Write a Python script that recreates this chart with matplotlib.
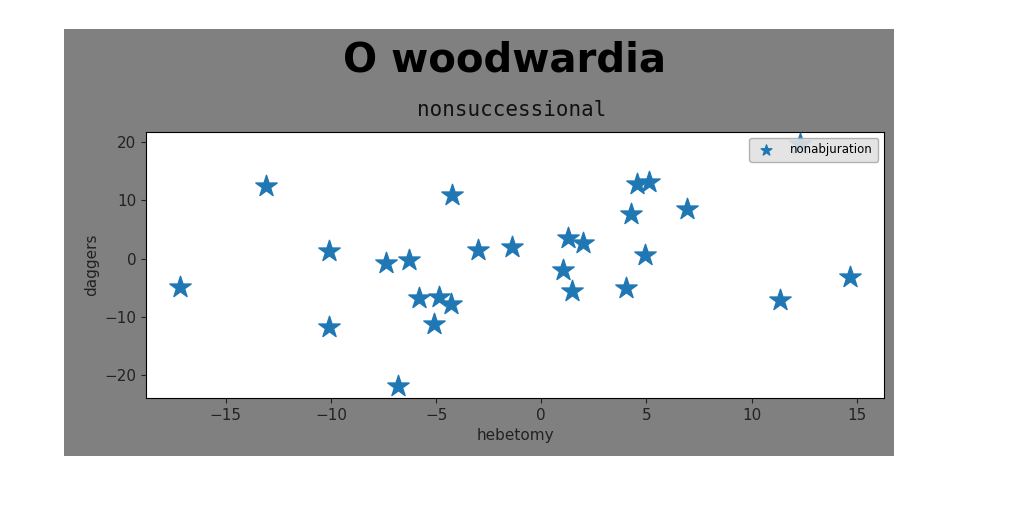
import matplotlib
matplotlib.use("Agg")
import matplotlib.pyplot as plt
from matplotlib.patches import Rectangle

# data
hebetomy = [-17.2, -13.1, -10.1, -10.1, -7.4, -6.3, -5.8, -4.85, -4.3, -5.1,
            -6.8, -4.25, -3.0, -1.4, 1.25, 2.0, 1.05, 1.45, 4.05, 4.25,
            4.55, 5.1, 4.95, 6.95, 11.35, 14.7, 12.3]
daggers = [-4.8, 12.5, 1.3, -11.7, -0.7, -0.3, -6.8, -6.6, -7.8, -11.2,
           -21.8, 10.8, 1.4, 2.0, 3.5, 2.6, -2.0, -5.5, -5.0, 7.7,
           12.8, 13.1, 0.6, 8.4, -7.1, -3.1, 19.6]

title = "O woodwardia"
subtitle = "nonsuccessional"
series_name = "nonabjuration"


def main():
    fig = plt.figure(figsize=(10.24, 5.12), dpi=100)
    fig.patch.set_facecolor("white")

    # grey figure panel sitting inside a white border
    panel = Rectangle((64 / 1024, 1 - 456 / 512), 830 / 1024, 427 / 512,
                      transform=fig.transFigure, facecolor="#808080",
                      edgecolor="none", zorder=-1)
    fig.add_artist(panel)

    ax = fig.add_axes([0.1426, 0.2227, 0.7207, 0.5195])
    ax.scatter(hebetomy, daggers, marker="*", s=260, color="#1f77b4",
               label=series_name, zorder=3)

    ax.set_xlabel("hebetomy", fontsize=11, color="#222222")
    ax.set_ylabel("daggers", fontsize=11, color="#222222")
    ax.tick_params(labelsize=11, colors="#222222")
    ax.set_xticks([-15, -10, -5, 0, 5, 10, 15])
    ax.set_yticks([-20, -10, 0, 10, 20])

    leg = ax.legend(loc="upper right", fontsize=8.5, markerscale=0.5,
                    facecolor="#e2e2e2", framealpha=0.9, edgecolor="#aaaaaa",
                    handletextpad=1.0, borderpad=0.45)
    leg.set_zorder(5)

    fig.text(0.493, 0.882, title, ha="center", va="center", fontsize=29,
             fontweight="bold", color="black")
    fig.text(0.5, 0.785, subtitle, ha="center", va="center", fontsize=15,
             family="DejaVu Sans Mono", color="#111111")

    fig.savefig("out.png", dpi=100)
    plt.close(fig)


if __name__ == "__main__":
    main()
